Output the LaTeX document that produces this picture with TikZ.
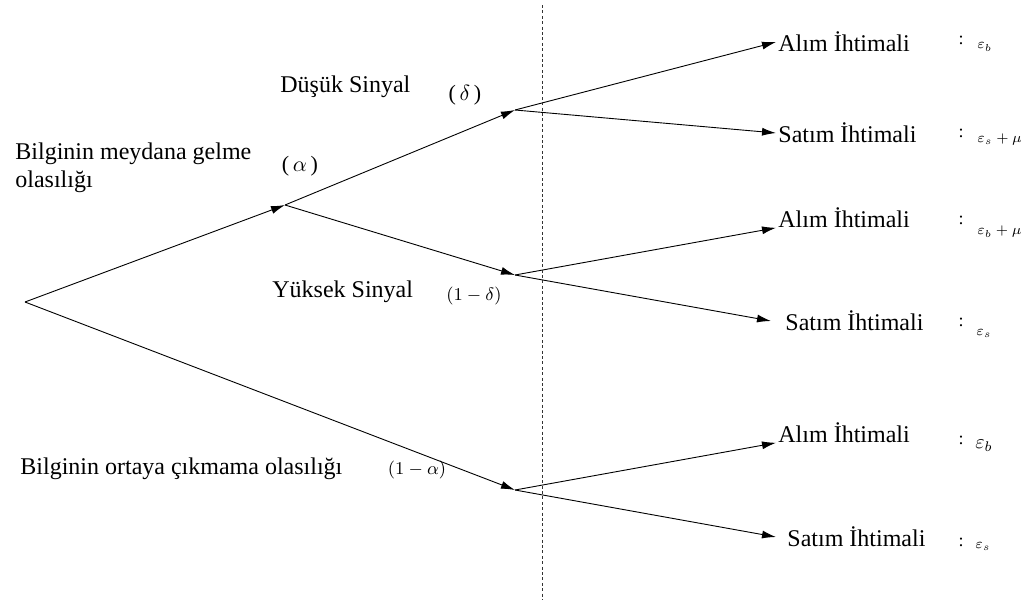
\documentclass[tikz,border=0pt]{standalone}
\usepackage{fontspec}
\setmainfont{Liberation Serif}
\usetikzlibrary{arrows.meta}

\begin{document}
\begin{tikzpicture}[x=0.5pt,y=-0.5pt]
	\tikzstyle{dal}=[-{Latex[length=7pt,width=4pt]}, line width=0.45pt]
	\tikzstyle{sonuc}=[anchor=west, inner sep=1pt, font=\fontsize{12}{14}\selectfont]
	\tikzstyle{etiket}=[anchor=base west, inner sep=0pt, font=\fontsize{12}{14}\selectfont]
	\tikzstyle{olas}=[inner sep=0pt, font=\fontsize{9}{10}\selectfont]
	\tikzstyle{deger}=[anchor=west, inner sep=0pt, font=\fontsize{7}{8}\selectfont]
	\useasboundingbox (0,0) rectangle (1026,605);
	% dallanma noktalari
	\coordinate (r) at (25,302);
	\coordinate (a) at (285,205);
	\coordinate (d) at (515,110);
	\coordinate (y) at (515,275);
	\coordinate (n) at (515,490);
	\coordinate (ust) at (542,5);
	\coordinate (alt) at (542,600);
	% sonuclar
	\node[sonuc](a1) at (776,42) {Alım İhtimali};
	\node[sonuc](s1) at (776,133) {Satım İhtimali};
	\node[sonuc](a2) at (776,218) {Alım İhtimali};
	\node[sonuc, inner xsep=7pt](s2) at (771,321) {Satım İhtimali};
	\node[sonuc](a3) at (776,433) {Alım İhtimali};
	\node[sonuc, inner xsep=5.5pt](s3) at (776,537) {Satım İhtimali};
	% degerler
	\foreach \i/\yy in {1/40,2/133,3/220,4/322,5/440,6/542}
		\node[olas](c\i) at (961,\yy) {:};
	\node[deger](e1) at (977,47) {$\varepsilon_b$};
	\node[deger](e2) at (977,140) {$\varepsilon_s+\mu$};
	\node[deger](e3) at (977,232) {$\varepsilon_b+\mu$};
	\node[deger](e4) at (976,333) {$\varepsilon_s$};
	\node[deger, font=\fontsize{10}{11}\selectfont](e5) at (975,446) {$\varepsilon_b$};
	\node[deger](e6) at (975,546) {$\varepsilon_s$};
	% etiketler
	\node[etiket](ds) at (280,92) {Düşük Sinyal};
	\node[etiket](ys) at (272,297) {Yüksek Sinyal};
	\node[etiket](bm) at (15,159) {Bilginin meydana gelme};
	\node[etiket](bo) at (15,187) {olasılığı};
	\node[etiket](bc) at (20,474) {Bilginin ortaya çıkmama olasılığı};
	\node[olas, font=\fontsize{11}{12}\selectfont](al) at (300,166) {(\,$\alpha$\,)};
	\node[olas, font=\fontsize{11}{12}\selectfont](de) at (465,95) {(\,$\delta$\,)};
	\node[olas](d1) at (474,296) {$(1-\delta)$};
	\node[olas](a1m) at (417,470) {$(1-\alpha)$};
	% dallar
	\draw[dal] (r) -- (a);
	\draw[dal] (a) -- (d);
	\draw[dal] (a) -- (y);
	\draw[dal] (r) -- (n);
	\draw[dal] (d) -- (a1.west);
	\draw[dal] (d) -- (s1.west);
	\draw[dal] (y) -- (a2.base west);
	\draw[dal] (y) -- (s2.west);
	\draw[dal] (n) -- (a3.base west);
	\draw[dal] (n) -- (s3.west);
	\draw[line width=0.5pt, dash pattern=on 1.5pt off 1.2pt, black!80] (ust) -- (alt);
\end{tikzpicture}
\end{document}
